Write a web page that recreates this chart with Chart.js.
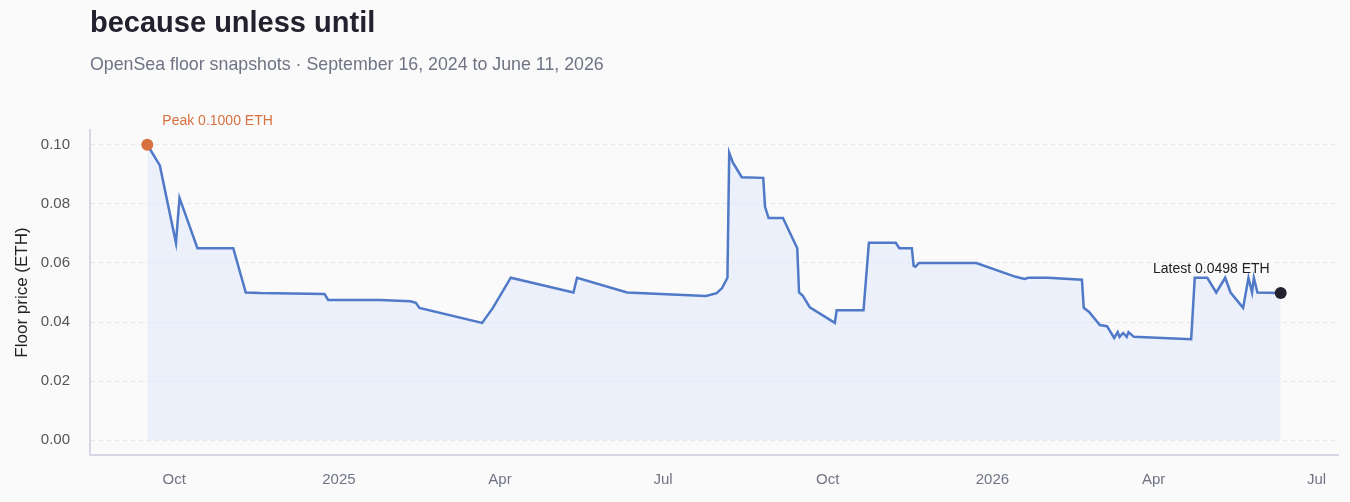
<!DOCTYPE html>
<html><head><meta charset="utf-8">
<script src="https://cdn.jsdelivr.net/npm/chart.js@4/dist/chart.umd.min.js"></script>
<style>
body{margin:0;background:#fafafa;font-family:"Liberation Sans",Arial,sans-serif;}
#t{position:absolute;left:90px;top:6px;font-size:29px;font-weight:bold;color:#22222e;}
#s{position:absolute;left:90px;top:54px;font-size:17.8px;color:#6f7384;}
#w{position:absolute;left:0;top:0;width:1350px;height:502px;}
</style></head><body>
<div id="w"><canvas id="c"></canvas></div>
<div id="t">because unless until</div>
<div id="s">OpenSea floor snapshots · September 16, 2024 to June 11, 2026</div>
<script>
// days since 2024-09-16
const days=[0,7,16,18,28,48,55,63,99,101,130,147,150,152,187,193,203,238,240,268,312,318,321,324,325,327,332,344,345,347,355,363,364,366,370,384,385,400,403,418,420,427,428,429,431,463,485,490,492,503,522,523,526,532,536,540,542,543,545,547,548,551,583,585,592,597,602,605,612,615,617,618,620,633];
const prices=[0.100,0.093,0.0668,0.082,0.065,0.065,0.050,0.0498,0.0495,0.0475,0.0475,0.047,0.0465,0.0448,0.0397,0.0448,0.055,0.050,0.055,0.050,0.0488,0.0498,0.0515,0.055,0.0973,0.094,0.089,0.0888,0.079,0.0752,0.0752,0.065,0.050,0.049,0.045,0.0397,0.044,0.044,0.0668,0.0668,0.065,0.065,0.059,0.0587,0.060,0.060,0.0553,0.0546,0.055,0.055,0.0543,0.0448,0.0434,0.039,0.0386,0.0346,0.0366,0.035,0.0363,0.035,0.0366,0.035,0.0342,0.055,0.055,0.050,0.055,0.050,0.0448,0.055,0.050,0.055,0.050,0.0498];
const tickDays=[15,107,197,288,380,472,562,653];
const tickLabels=['Oct','2025','Apr','Jul','Oct','2026','Apr','Jul'];
const yTicks=[0,0.02,0.04,0.06,0.08,0.10];
const pts=days.map((d,i)=>({x:d,y:prices[i]}));
const last=pts.length-1;
const labels={id:'lbl',afterDatasetsDraw(ch){const c=ch.ctx,xs=ch.scales.x,ys=ch.scales.y;c.save();c.font='14px "Liberation Sans",Arial';
c.fillStyle='#d7703f';c.textAlign='left';c.fillText('Peak 0.1000 ETH',xs.getPixelForValue(days[0])+15,ys.getPixelForValue(prices[0])-20);
c.fillStyle='#222';c.textAlign='right';c.fillText('Latest 0.0498 ETH',xs.getPixelForValue(days[last])-11,ys.getPixelForValue(prices[last])-20);c.restore();}};
new Chart(document.getElementById('c'),{type:'line',
data:{datasets:[
{data:pts,order:3,borderColor:'#5079c8',borderWidth:2.5,backgroundColor:'rgba(220,230,252,0.5)',fill:'origin',pointRadius:0,tension:0},
{data:[pts[0]],order:1,pointRadius:6,pointBackgroundColor:'#d7703f',pointBorderWidth:0,showLine:false},
{data:[pts[last]],order:1,pointRadius:6,pointBackgroundColor:'#22222e',pointBorderWidth:0,showLine:false}]},
plugins:[labels],
options:{responsive:true,maintainAspectRatio:false,animation:false,
layout:{padding:{left:8,right:12,top:130,bottom:5}},
plugins:{legend:{display:false},tooltip:{enabled:false}},
scales:{
x:{type:'linear',min:-32,max:665,afterBuildTicks:a=>{a.ticks=tickDays.map(v=>({value:v}));},
ticks:{callback:(v)=>tickLabels[tickDays.indexOf(v)]??'',color:'#6f7384',font:{size:15},maxRotation:0,padding:8},
grid:{display:false},border:{color:'#d6d6e6',width:2}},
y:{min:-0.005,max:0.105,afterBuildTicks:a=>{a.ticks=yTicks.map(v=>({value:v}));},afterFit:s=>{s.width=82;},
ticks:{callback:v=>v.toFixed(2),color:'#555',font:{size:15},padding:20},
title:{display:true,text:'Floor price (ETH)',color:'#222',font:{size:17}},
grid:{color:'#e3e5ee',drawTicks:false},border:{color:'#d6d6e6',width:2,dash:[4,4]}}
}}});
</script></body></html>
